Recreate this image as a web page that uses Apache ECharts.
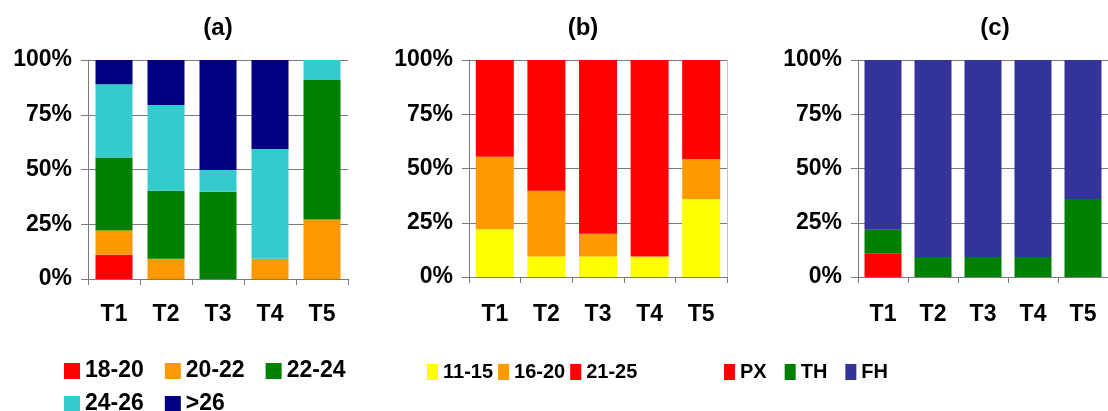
<!DOCTYPE html>
<html>
<head>
<meta charset="utf-8">
<script src="https://cdn.jsdelivr.net/npm/echarts@6/dist/echarts.min.js"></script>
<style>
  html, body { margin: 0; padding: 0; background: #fff; }
  #chart { width: 1108px; height: 411px; }
</style>
</head>
<body>
<div id="chart"></div>
<script>
// Categories shared by the three panels
const categories = ['T1', 'T2', 'T3', 'T4', 'T5'];
const yTicks = [0, 25, 50, 75, 100];

// Panel (a): temperature classes (%)
const a_18_20 = [11.1, 0, 0, 0, 0];
const a_20_22 = [11.1, 9.3, 0, 9.3, 27.2];
const a_22_24 = [33.3, 31.0, 39.8, 0, 63.7];
const a_24_26 = [33.4, 39.2, 10.0, 50.1, 9.1];
const a_gt26  = [11.1, 20.5, 50.2, 40.6, 0];

// Panel (b): classes (%)
const b_11_15 = [22.0, 9.4, 9.4, 9.4, 36.0];
const b_16_20 = [33.4, 30.3, 10.5, 0, 18.4];
const b_21_25 = [44.6, 60.3, 80.1, 90.6, 45.6];

// Panel (c): PX / TH / FH (%)
const c_PX = [11.0, 0, 0, 0, 0];
const c_TH = [10.8, 9.2, 9.2, 9.2, 36.0];
const c_FH = [78.2, 90.8, 90.8, 90.8, 64.0];

const FONT = '"Liberation Sans", Arial, sans-serif';
const AXIS_GREY = '#7a7a7a';

function xAxisFor(gridIndex, margin) {
  return {
    type: 'category', gridIndex, data: categories, boundaryGap: true,
    axisLine: { show: true, lineStyle: { color: AXIS_GREY, width: 1 } },
    axisTick: { show: true, length: 6, lineStyle: { color: AXIS_GREY } },
    axisLabel: { margin, color: '#000', fontFamily: FONT, fontWeight: 'bold', fontSize: 23 },
    splitLine: { show: false }
  };
}
function yAxisFor(gridIndex) {
  return {
    type: 'value', gridIndex, min: yTicks[0], max: yTicks[yTicks.length - 1], interval: 25,
    axisLine: { show: true, lineStyle: { color: AXIS_GREY, width: 1 } },
    axisTick: { show: true, length: 7, lineStyle: { color: AXIS_GREY } },
    axisLabel: { margin: 16, color: '#000', fontFamily: FONT, fontWeight: 'bold', fontSize: 23,
                 formatter: v => v + '%' },
    splitLine: { show: true, lineStyle: { color: AXIS_GREY, width: 1 } }
  };
}
function bar(name, data, color, axisIdx, width) {
  return {
    name, type: 'bar', data, stack: 'stack' + axisIdx,
    xAxisIndex: axisIdx, yAxisIndex: axisIdx,
    barWidth: width, itemStyle: { color }, emphasis: { disabled: true }
  };
}
function legend(names, left, top, iw, ih, gap, size) {
  return {
    data: names, left, top, padding: 0, orient: 'horizontal',
    itemWidth: iw, itemHeight: ih, itemGap: gap, icon: 'rect',
    textStyle: { color: '#000', fontFamily: FONT, fontWeight: 'bold', fontSize: size, lineHeight: 24 },
    selectedMode: false
  };
}

const chart = echarts.init(document.getElementById('chart'), null, { renderer: 'canvas' });
chart.setOption({
  animation: false,
  backgroundColor: '#fff',
  grid: [
    { left: 88,  top: 60, width: 260, height: 219 },
    { left: 469, top: 60, width: 258, height: 217 },
    { left: 858, top: 60, width: 260, height: 217 }
  ],
  xAxis: [xAxisFor(0, 24), xAxisFor(1, 26), xAxisFor(2, 26)],
  yAxis: [
    yAxisFor(0), yAxisFor(1), yAxisFor(2),
    // light frame line on the right edge of panel (b)
    { type: 'value', gridIndex: 1, position: 'right', min: 0, max: 100,
      axisLine: { show: true, lineStyle: { color: '#c4c4c4' } },
      axisTick: { show: false }, axisLabel: { show: false }, splitLine: { show: false } }
  ],
  legend: [
    legend(['18-20', '20-22', '22-24'], 64, 359, 16, 16, 21, 23),
    legend(['24-26', '>26'], 64, 392, 16, 16, 21, 23),
    legend(['11-15', '16-20', '21-25'], 427, 360, 11, 16, 5, 20),
    legend(['PX', 'TH', 'FH'], 724, 360, 11, 16, 18, 20)
  ],
  graphic: [
    { type: 'text', x: 218, y: 28, style: { text: '(a)', align: 'center', verticalAlign: 'middle', fill: '#000', fontFamily: FONT, fontWeight: 'bold', fontSize: 24 } },
    { type: 'text', x: 583, y: 28, style: { text: '(b)', align: 'center', verticalAlign: 'middle', fill: '#000', fontFamily: FONT, fontWeight: 'bold', fontSize: 24 } },
    { type: 'text', x: 995, y: 28, style: { text: '(c)', align: 'center', verticalAlign: 'middle', fill: '#000', fontFamily: FONT, fontWeight: 'bold', fontSize: 24 } }
  ],
  series: [
    bar('18-20', a_18_20, '#ff0000', 0, 37),
    bar('20-22', a_20_22, '#ff9900', 0, 37),
    bar('22-24', a_22_24, '#008000', 0, 37),
    bar('24-26', a_24_26, '#33cccc', 0, 37),
    bar('>26',   a_gt26,  '#000080', 0, 37),
    bar('11-15', b_11_15, '#ffff00', 1, 38),
    bar('16-20', b_16_20, '#ff9900', 1, 38),
    bar('21-25', b_21_25, '#ff0000', 1, 38),
    bar('PX', c_PX, '#ff0000', 2, 37),
    bar('TH', c_TH, '#008000', 2, 37),
    bar('FH', c_FH, '#333399', 2, 37)
  ]
});
</script>
</body>
</html>
